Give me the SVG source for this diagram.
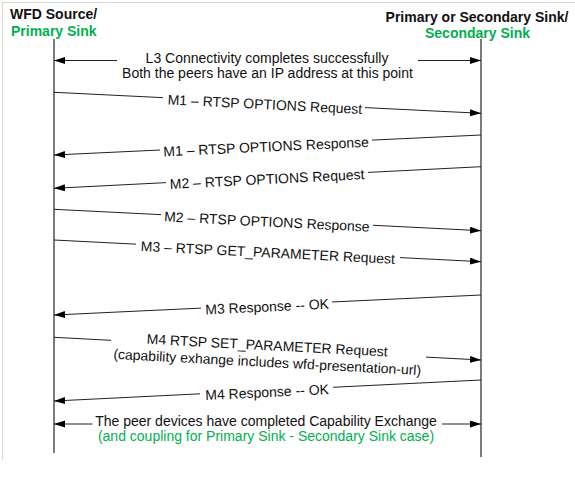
<svg xmlns="http://www.w3.org/2000/svg" width="575" height="481" viewBox="0 0 575 481">
  <defs>
    <marker id="ah" markerUnits="userSpaceOnUse" markerWidth="12" markerHeight="8" refX="11" refY="3.5" orient="auto">
      <path d="M0,0 L11,3.5 L0,7 z" fill="#000"/>
    </marker>
    <style>
      text { font-family: "Liberation Sans", Arial, sans-serif; font-size: 14px; fill: #111; }
      .hdr { font-weight: bold; }
      .green { fill: #00b050; }
      .mid { text-anchor: middle; }
      .life { stroke: #222; stroke-width: 1.2; fill: none; }
      .msg { stroke: #222; stroke-width: 1; fill: none; }
      .arr { marker-end: url(#ah); }
      .frame { stroke: #d9d9d9; stroke-width: 1; fill: none; }
    </style>
  </defs>
  <rect x="0" y="0" width="575" height="481" fill="#fff"/>
  <path class="frame" d="M2.5,460 L2.5,2.5 L575,2.5"/>

  <g id="source">
    <text class="hdr" x="10" y="19">WFD Source/</text>
    <text class="hdr green" x="11" y="36">Primary Sink</text>
    <line class="life" x1="54" y1="39" x2="54" y2="453"/>
  </g>
  <g id="sink">
    <text class="hdr mid" x="477" y="21.5">Primary or Secondary Sink/</text>
    <text class="hdr green mid" x="477.5" y="37.5">Secondary Sink</text>
    <line class="life" x1="481" y1="39" x2="481" y2="457"/>
  </g>

  <g id="connectors">
    <!-- L3 connectivity -->
    <line class="msg arr" x1="117" y1="60.5" x2="54" y2="60.5"/>
    <line class="msg arr" x1="418" y1="60.5" x2="481" y2="60.5"/>
    <!-- M1 request -->
    <line class="msg" x1="54" y1="92.3" x2="163" y2="97.66"/>
    <line class="msg arr" x1="365" y1="107.6" x2="481" y2="113.3"/>
    <!-- M1 response -->
    <line class="msg" x1="481" y1="135" x2="372" y2="140.1"/>
    <line class="msg arr" x1="160" y1="150.03" x2="54" y2="155"/>
    <!-- M2 request -->
    <line class="msg" x1="481" y1="166.7" x2="368" y2="172.41"/>
    <line class="msg arr" x1="166" y1="182.63" x2="54" y2="188.3"/>
    <!-- M2 response -->
    <line class="msg" x1="54" y1="209.3" x2="161" y2="214.66"/>
    <line class="msg arr" x1="373" y1="225.28" x2="481" y2="230.7"/>
    <!-- M3 request -->
    <line class="msg" x1="54" y1="240" x2="136" y2="244.17"/>
    <line class="msg arr" x1="400" y1="257.58" x2="481" y2="261.7"/>
    <!-- M3 response -->
    <line class="msg" x1="481" y1="295" x2="332" y2="301.98"/>
    <line class="msg arr" x1="201" y1="308.11" x2="54" y2="315"/>
    <!-- M4 request -->
    <line class="msg" x1="54" y1="337.3" x2="111" y2="340.33"/>
    <line class="msg arr" x1="426" y1="357.08" x2="481" y2="360"/>
    <!-- M4 response -->
    <line class="msg" x1="481" y1="380" x2="333" y2="387.28"/>
    <line class="msg arr" x1="200" y1="393.82" x2="54" y2="401"/>
    <!-- capability exchange complete -->
    <line class="msg arr" x1="92.5" y1="424" x2="54" y2="424"/>
    <line class="msg arr" x1="442" y1="424" x2="481" y2="424"/>
  </g>

  <g id="labels">
    <text class="mid" x="267" y="62.5">L3 Connectivity completes successfully</text>
    <text class="mid" x="267.5" y="77.5">Both the peers have an IP address at this point</text>

    <text class="mid" x="265" y="109.2" transform="rotate(2.82 265 102.68)">M1 – RTSP OPTIONS Request</text>
    <text class="mid" x="266" y="151.6" transform="rotate(-2.68 266 145.07)">M1 – RTSP OPTIONS Response</text>
    <text class="mid" x="267" y="184" transform="rotate(-2.9 267 177.52)">M2 – RTSP OPTIONS Request</text>
    <text class="mid" x="267" y="226.5" transform="rotate(2.87 267 219.97)">M2 – RTSP OPTIONS Response</text>
    <text class="mid" x="268" y="257.4" transform="rotate(2.91 268 250.88)">M3 – RTSP GET_PARAMETER Request</text>
    <text class="mid" x="267" y="311.5" transform="rotate(-2.68 267 305.02)">M3 Response -- OK</text>
    <g transform="rotate(3.04 268 348.68)">
      <text class="mid" x="267" y="350.2">M4 RTSP SET_PARAMETER Request</text>
      <text class="mid" x="268" y="367">(capability exhange includes wfd-presentation-url)</text>
    </g>
    <text class="mid" x="267" y="397" transform="rotate(-2.82 267 390.52)">M4 Response -- OK</text>

    <text class="mid" x="266" y="425.5">The peer devices have completed Capability Exchange</text>
    <text class="mid green" x="266" y="441">(and coupling for Primary Sink - Secondary Sink case)</text>
  </g>
</svg>
